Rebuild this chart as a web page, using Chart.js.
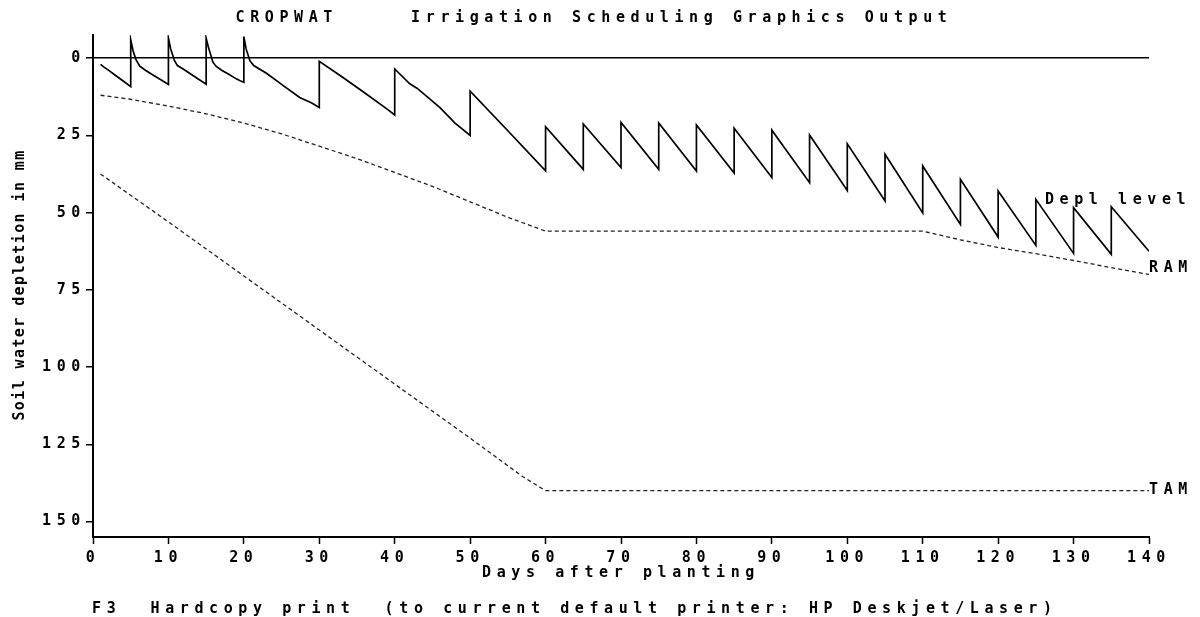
<!DOCTYPE html>
<html>
<head>
<meta charset="utf-8">
<title>CROPWAT Irrigation Scheduling</title>
<script src="https://cdn.jsdelivr.net/npm/chart.js@4.4.1/dist/chart.umd.min.js"></script>
<style>
  body { margin: 0; background: #fff; }
  canvas { display: block; }
</style>
</head>
<body>
<canvas id="myChart" width="1200" height="617"></canvas>
<script>
// soil water depletion (mm), each irrigation is a vertical jump (same day twice)
const deplDays = [1, 1.5, 2, 3, 4, 5,
  5, 5.3, 5.7, 6.2, 7, 8, 9, 10,
  10, 10.3, 10.8, 11.2, 12, 13, 14, 15,
  15, 15.3, 15.9, 16.3, 17, 18, 19, 19.5, 20,
  20, 20.3, 20.8, 21.3, 23, 25, 27.4, 29, 30,
  30, 33, 36, 39, 40,
  40, 42, 43, 46, 48, 50,
  50, 55, 60,
  60, 65, 65, 70, 70, 75, 75, 80, 80, 85, 85, 90, 90, 95, 95, 100,
  100, 105, 105, 110, 110, 115, 115, 120, 120, 125, 125, 130, 130, 135, 135, 140];
const deplValues = [2, 3, 3.8, 5.6, 7.4, 9.2,
  -6, -2.5, 0.5, 2.6, 4, 5.5, 7, 8.5,
  -6.5, -3, 0.8, 2.4, 3.6, 5.2, 6.8, 8.4,
  -6.5, -3.5, 1.3, 2.6, 3.8, 5.2, 6.7, 7.3, 7.8,
  -7, -3, 0.8, 2.4, 4.9, 8.5, 12.7, 14.5, 16,
  1, 6, 11.2, 16.5, 18.4,
  3.5, 8.3, 9.8, 16, 21, 25,
  10.7, 23.5, 36.5,
  22.2, 36, 21.3, 35.4, 20.8, 36, 21, 36.5, 21.6, 37.2, 22.7, 38.6, 23.3, 40.3, 24.9, 42.8,
  27.7, 46.2, 31.1, 50.1, 34.9, 53.8, 39.2, 57.9, 43, 60.6, 45.7, 63.2, 48.4, 63.5, 48.1, 62.5];

// readily available moisture
const ramDays = [1, 5, 10, 15, 20, 25, 30, 35, 40, 45, 50, 55, 60, 110, 115, 120, 125, 130, 135, 140];
const ramValues = [12, 13.3, 15.5, 18, 21, 24.5, 28.5, 32.5, 37, 41.5, 46.5, 51.5, 56, 56, 58.8, 61.3, 63.3, 65.5, 67.8, 70];

// total available moisture
const tamDays = [1, 10, 20, 30, 40, 50, 57, 60, 140];
const tamValues = [37.5, 53, 70.5, 88, 105.5, 123, 135.5, 140, 140];

const xTicks = [0, 10, 20, 30, 40, 50, 60, 70, 80, 90, 100, 110, 120, 130, 140];
const yTicks = [0, 25, 50, 75, 100, 125, 150];

const titleText = "CROPWAT     Irrigation Scheduling Graphics Output";
const xTitle = "Days after planting";
const yTitle = "Soil water depletion in mm";
const footText = "F3  Hardcopy print  (to current default printer: HP Deskjet/Laser)";

const monoFont = '"DejaVu Sans Mono", "Liberation Mono", monospace';
const wide = '5.6px';

function toPoints(days, values) {
  return days.map((d, i) => ({ x: d, y: values[i] }));
}

// wide dos-style lettering + the loose labels
const textPlugin = {
  id: 'cropwatText',
  beforeDraw(chart) {
    chart.ctx.letterSpacing = wide;
  },
  afterDraw(chart) {
    const ctx = chart.ctx;
    const x = chart.scales.x;
    const y = chart.scales.y;
    ctx.save();
    ctx.fillStyle = '#000';
    ctx.font = 'bold 15px ' + monoFont;
    ctx.letterSpacing = wide;
    ctx.textBaseline = 'middle';
    ctx.textAlign = 'left';
    ctx.fillText(chart.data.datasets[0].label, x.getPixelForValue(126.2), y.getPixelForValue(45.8));
    ctx.fillText(chart.data.datasets[1].label, x.getPixelForValue(140), y.getPixelForValue(68));
    ctx.fillText(chart.data.datasets[2].label, x.getPixelForValue(140), y.getPixelForValue(139.7));
    ctx.fillText(footText, 92, 609);

    ctx.translate(20, 285);
    ctx.rotate(-Math.PI / 2);
    ctx.font = 'bold 15px ' + monoFont;
    ctx.letterSpacing = '1.4px';
    ctx.textAlign = 'center';
    ctx.fillText(yTitle, 0, 0);
    ctx.restore();
  }
};

window.onload = () => {
  const ctx = document.getElementById('myChart');
  const font = { family: monoFont, size: 15, weight: 'bold' };
  new Chart(ctx, {
    type: 'line',
    data: {
      datasets: [
        {
          label: 'Depl level',
          data: toPoints(deplDays, deplValues),
          borderColor: '#000',
          borderWidth: 1.7,
          pointRadius: 0,
          tension: 0,
        },
        {
          label: 'RAM',
          data: toPoints(ramDays, ramValues),
          borderColor: '#222',
          borderWidth: 1.3,
          borderDash: [4, 3],
          pointRadius: 0,
          tension: 0,
        },
        {
          label: 'TAM',
          data: toPoints(tamDays, tamValues),
          borderColor: '#222',
          borderWidth: 1.3,
          borderDash: [4, 3],
          pointRadius: 0,
          tension: 0,
        },
      ],
    },
    options: {
      responsive: false,
      animation: false,
      layout: { padding: { left: 39, right: 51, top: 0, bottom: 35 } },
      plugins: {
        legend: { display: false },
        tooltip: { enabled: false },
        title: {
          display: true,
          text: titleText,
          color: '#000',
          font: font,
          padding: { top: 9, bottom: 8 },
        },
      },
      scales: {
        x: {
          type: 'linear',
          min: 0,
          max: 140,
          afterBuildTicks: (s) => { s.ticks = xTicks.map((v) => ({ value: v })); },
          afterFit: (s) => { s.height = 45; },
          grid: { drawOnChartArea: false, tickLength: 7, tickColor: '#000', tickWidth: 1.5 },
          border: { color: '#000', width: 2 },
          ticks: { color: '#000', padding: 5, maxRotation: 0, font: font },
          title: { display: true, text: xTitle, color: '#000', padding: 0, font: font },
        },
        y: {
          reverse: true,
          min: -7.5,
          max: 155,
          afterBuildTicks: (s) => { s.ticks = yTicks.map((v) => ({ value: v })); },
          afterFit: (s) => { s.width = 54; },
          grid: {
            color: (c) => (c.tick && c.tick.value === 0 ? '#000' : 'transparent'),
            lineWidth: 1.5,
            tickLength: 7,
            tickColor: '#000',
            tickWidth: 1.5,
          },
          border: { color: '#000', width: 2 },
          ticks: { color: '#000', padding: 0, font: font },
        },
      },
    },
    plugins: [textPlugin],
  });
};
</script>
</body>
</html>
